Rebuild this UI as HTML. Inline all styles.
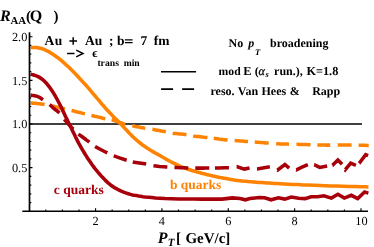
<!DOCTYPE html>
<html><head><meta charset="utf-8"><title>RAA</title>
<style>
html,body{margin:0;padding:0;background:#fff;}
body{width:374px;height:247px;overflow:hidden;}
svg{display:block;will-change:transform;}
text{font-family:"Liberation Serif",serif;fill:#000;text-rendering:geometricPrecision;}
.b{font-weight:bold;}
.i{font-style:italic;}
</style></head><body>
<svg width="374" height="247" viewBox="0 0 374 247">
<rect width="374" height="247" fill="#fff"/>
<!-- curves -->
<g fill="none" stroke-linejoin="round">
<path d="M29.5,123.9 H362.0" stroke="#000" stroke-width="1.5"/>
<path d="M30.5,102.9 L31.6,103.0 L33.2,103.2 L35.0,103.3 L37.1,103.6 L39.2,103.8 L41.2,104.0 L43.1,104.2 L44.6,104.4 L45.8,104.6 L46.8,104.8 L47.7,104.9 L48.5,105.1 L49.2,105.3 L50.1,105.5 L51.0,105.7 L52.2,106.0 L53.6,106.3 L55.2,106.7 L56.9,107.0 L58.7,107.5 L60.5,107.9 L62.2,108.2 L63.8,108.6 L65.1,108.9 L66.2,109.2 L67.0,109.4 L67.7,109.5 L68.3,109.7 L68.9,109.8 L69.6,110.0 L70.5,110.2 L71.6,110.5 L73.0,110.8 L74.6,111.2 L76.4,111.7 L78.3,112.2 L80.2,112.6 L82.0,113.1 L83.6,113.5 L85.0,113.8 L86.1,114.1 L86.9,114.3 L87.6,114.4 L88.2,114.6 L88.8,114.8 L89.5,114.9 L90.4,115.1 L91.5,115.4 L92.9,115.7 L94.6,116.2 L96.5,116.6 L98.4,117.1 L100.3,117.5 L102.2,118.0 L103.9,118.4 L105.3,118.7 L106.4,118.9 L107.2,119.0 L107.9,119.1 L108.5,119.2 L109.1,119.2 L109.8,119.3 L110.6,119.5 L111.7,119.8 L113.1,120.2 L114.8,120.8 L116.6,121.4 L118.5,122.0 L120.4,122.7 L122.3,123.3 L124.0,123.9 L125.4,124.3 L126.6,124.6 L127.5,124.9 L128.3,125.0 L129.0,125.2 L129.6,125.3 L130.4,125.4 L131.3,125.6 L132.4,125.8 L133.8,126.1 L135.3,126.4 L137.1,126.7 L138.8,127.0 L140.6,127.4 L142.3,127.7 L143.9,128.0 L145.3,128.2 L146.4,128.4 L147.4,128.5 L148.1,128.6 L148.9,128.7 L149.6,128.8 L150.4,129.0 L151.3,129.1 L152.5,129.3 L153.9,129.6 L155.6,129.9 L157.4,130.2 L159.2,130.5 L161.1,130.9 L162.9,131.2 L164.5,131.5 L165.9,131.8 L167.0,132.0 L167.9,132.2 L168.7,132.4 L169.3,132.6 L170.0,132.7 L170.7,132.9 L171.7,133.0 L172.8,133.2 L174.2,133.4 L175.9,133.6 L177.8,133.8 L179.7,134.0 L181.6,134.1 L183.5,134.3 L185.2,134.5 L186.6,134.7 L187.7,134.9 L188.6,135.0 L189.3,135.2 L189.9,135.3 L190.5,135.5 L191.3,135.7 L192.1,135.8 L193.3,136.0 L194.8,136.2 L196.5,136.4 L198.5,136.6 L200.5,136.8 L202.5,137.1 L204.4,137.3 L206.1,137.4 L207.6,137.6 L208.7,137.7 L209.6,137.8 L210.2,137.9 L210.8,137.9 L211.3,138.0 L212.0,138.1 L212.8,138.2 L213.9,138.3 L215.3,138.5 L217.0,138.7 L218.8,139.0 L220.7,139.2 L222.7,139.5 L224.5,139.7 L226.2,139.9 L227.7,140.1 L228.9,140.2 L229.9,140.3 L230.7,140.4 L231.4,140.4 L232.2,140.4 L233.0,140.5 L234.0,140.5 L235.2,140.6 L236.7,140.7 L238.4,140.8 L240.2,141.0 L242.2,141.1 L244.1,141.2 L245.9,141.4 L247.6,141.5 L249.0,141.6 L250.1,141.7 L250.9,141.7 L251.6,141.8 L252.2,141.8 L252.7,141.9 L253.4,142.0 L254.2,142.0 L255.3,142.1 L256.7,142.2 L258.3,142.3 L260.1,142.4 L261.9,142.6 L263.8,142.7 L265.7,142.9 L267.5,143.0 L269.1,143.1 L270.5,143.2 L271.8,143.3 L273.0,143.4 L274.2,143.5 L275.4,143.6 L276.7,143.7 L278.2,143.8 L280.0,143.9 L282.0,144.0 L284.2,144.0 L286.6,144.1 L289.1,144.2 L291.7,144.2 L294.4,144.3 L297.2,144.3 L300.0,144.4 L302.9,144.5 L306.0,144.6 L309.2,144.7 L312.5,144.8 L315.8,144.9 L319.0,145.0 L322.1,145.0 L325.0,145.1 L327.7,145.1 L330.3,145.1 L332.7,145.1 L335.1,145.1 L337.4,145.0 L339.8,145.0 L342.3,145.0 L345.0,145.0 L348.0,145.0 L351.3,145.1 L354.7,145.1 L358.2,145.2 L361.5,145.3 L364.5,145.3 L367.0,145.4 L368.9,145.4" stroke="#ff8303" stroke-width="3.55" stroke-dasharray="14.18 7.77 13.22 6.69 13.80 6.69 14.19 6.50 14.42 7.16 13.12 7.28 13.63 7.04 13.88 6.83 14.39 6.34 13.92 7.12 13.43 6.72 14.04 7.43 12.91 7.40 14.11 6.80 12.90 7.50 13.90 7.00 10.10 1000.00"/>
<path d="M30.5,47.5 L30.9,47.5 L31.4,47.5 L32.1,47.5 L32.8,47.4 L33.5,47.4 L34.3,47.4 L35.0,47.5 L35.7,47.5 L36.3,47.6 L36.9,47.6 L37.6,47.7 L38.2,47.8 L38.8,47.9 L39.4,48.0 L40.0,48.2 L40.6,48.3 L41.2,48.5 L41.8,48.6 L42.4,48.8 L43.0,49.0 L43.6,49.3 L44.2,49.5 L44.8,49.7 L45.4,50.0 L46.0,50.3 L46.6,50.6 L47.2,50.9 L47.8,51.2 L48.5,51.5 L49.1,51.9 L49.7,52.2 L50.3,52.6 L50.9,53.0 L51.5,53.4 L52.1,53.8 L52.8,54.2 L53.4,54.6 L54.0,55.0 L54.6,55.5 L55.2,55.9 L55.8,56.3 L56.4,56.7 L57.0,57.2 L57.6,57.6 L58.2,58.0 L58.8,58.5 L59.4,58.9 L60.0,59.4 L60.6,59.9 L61.2,60.4 L61.8,60.9 L62.4,61.5 L63.1,62.0 L63.7,62.6 L64.3,63.1 L64.9,63.7 L65.5,64.3 L66.1,64.8 L66.7,65.4 L67.4,65.9 L68.0,66.5 L68.6,67.0 L69.2,67.6 L69.8,68.2 L70.4,68.8 L71.0,69.4 L71.6,70.0 L72.2,70.6 L72.8,71.2 L73.4,71.8 L74.0,72.4 L74.6,73.0 L75.2,73.6 L75.8,74.3 L76.4,74.9 L76.9,75.5 L77.5,76.2 L78.2,76.8 L78.8,77.6 L79.5,78.3 L80.2,79.1 L81.0,79.9 L81.7,80.7 L82.5,81.5 L83.3,82.4 L84.2,83.3 L85.1,84.3 L86.0,85.3 L87.0,86.4 L88.0,87.6 L89.1,88.8 L90.1,90.1 L91.3,91.4 L92.4,92.8 L93.5,94.1 L94.7,95.5 L95.9,96.9 L97.1,98.3 L98.3,99.7 L99.5,101.2 L100.7,102.6 L101.9,104.1 L103.2,105.5 L104.4,106.9 L105.6,108.3 L106.9,109.7 L108.2,111.1 L109.5,112.5 L110.8,113.8 L112.0,115.1 L113.1,116.3 L114.2,117.4 L115.2,118.4 L116.1,119.3 L116.9,120.2 L117.7,120.9 L118.5,121.7 L119.2,122.4 L120.0,123.1 L120.7,123.9 L121.4,124.6 L122.1,125.4 L122.7,126.1 L123.3,126.7 L124.0,127.4 L124.7,128.2 L125.4,129.0 L126.2,129.8 L127.1,130.7 L128.0,131.7 L129.0,132.8 L130.1,133.9 L131.1,135.0 L132.2,136.1 L133.3,137.1 L134.3,138.1 L135.3,139.0 L136.3,139.9 L137.3,140.8 L138.4,141.6 L139.4,142.5 L140.4,143.3 L141.4,144.0 L142.4,144.8 L143.4,145.6 L144.5,146.3 L145.6,147.1 L146.7,147.8 L147.8,148.5 L148.8,149.1 L149.7,149.7 L150.5,150.2 L151.2,150.6 L151.8,151.0 L152.3,151.3 L152.7,151.5 L153.1,151.8 L153.6,152.0 L154.0,152.3 L154.6,152.6 L155.2,152.9 L155.8,153.3 L156.4,153.6 L157.0,153.9 L157.7,154.3 L158.4,154.7 L159.3,155.2 L160.3,155.8 L161.5,156.5 L162.8,157.2 L164.2,158.0 L165.7,158.9 L167.2,159.8 L168.8,160.6 L170.4,161.5 L172.0,162.3 L173.6,163.1 L175.1,163.8 L176.7,164.6 L178.3,165.4 L179.9,166.1 L181.6,166.8 L183.5,167.6 L185.4,168.3 L187.5,169.0 L189.7,169.7 L192.0,170.5 L194.4,171.2 L196.8,171.9 L199.3,172.5 L201.7,173.2 L204.0,173.8 L206.3,174.4 L208.5,174.9 L210.8,175.5 L213.0,176.0 L215.3,176.4 L217.5,176.9 L219.8,177.4 L222.0,177.8 L224.2,178.2 L226.4,178.6 L228.6,179.1 L230.8,179.4 L233.0,179.8 L235.2,180.2 L237.6,180.5 L240.0,180.8 L242.6,181.1 L245.2,181.3 L248.0,181.6 L250.8,181.8 L253.6,182.0 L256.4,182.2 L259.2,182.4 L262.0,182.6 L264.6,182.8 L267.1,183.0 L269.4,183.1 L271.8,183.3 L274.4,183.5 L277.2,183.6 L280.3,183.8 L284.0,184.0 L288.2,184.2 L292.9,184.4 L297.9,184.6 L303.2,184.9 L308.6,185.1 L314.1,185.3 L319.6,185.5 L325.0,185.7 L330.6,185.9 L336.7,186.1 L343.0,186.2 L349.3,186.4 L355.2,186.6 L360.5,186.7 L365.0,186.8 L368.4,186.9" stroke="#ff8303" stroke-width="3.55"/>
<path d="M30.5,95.1 L31.7,95.3 L33.5,95.5 L35.5,95.9 L37.3,96.4 L38.8,97.0 L40.2,97.8 L41.5,98.7 L43.0,99.7 L44.6,100.8 L46.4,102.1 L48.1,103.4 L49.6,104.6 L50.9,105.7 L52.1,106.8 L53.2,107.9 L54.4,108.9 L55.6,109.9 L56.9,110.8 L58.2,111.8 L59.4,113.0 L60.5,114.4 L61.6,115.8 L62.8,117.5 L64.3,119.4 L66.3,121.7 L68.7,124.4 L71.1,127.0 L73.2,129.2 L74.8,130.8 L76.1,132.0 L77.3,133.0 L78.5,134.0 L79.8,135.1 L81.1,136.0 L82.5,137.0 L83.8,138.0 L85.2,139.0 L86.6,140.1 L88.0,141.1 L89.4,142.2 L90.7,143.2 L91.8,144.2 L93.2,145.3 L95.1,146.5 L97.8,148.0 L101.1,149.8 L104.5,151.5 L107.3,152.9 L109.2,153.8 L110.5,154.5 L111.9,155.1 L113.8,155.8 L116.7,156.9 L120.2,158.1 L123.7,159.3 L126.6,160.2 L128.4,160.8 L129.7,161.2 L130.9,161.5 L132.8,161.9 L135.8,162.4 L139.4,163.0 L143.0,163.6 L146.0,164.1 L148.0,164.5 L149.3,164.9 L150.7,165.2 L152.7,165.6 L155.8,166.0 L159.5,166.4 L163.3,166.7 L166.5,167.0 L168.7,167.2 L170.2,167.3 L171.8,167.4 L174.0,167.5 L177.1,167.6 L180.7,167.7 L184.4,167.8 L187.9,167.9 L191.1,168.0 L194.3,168.0 L197.3,168.1 L200.0,168.1 L202.0,168.1 L203.4,168.1 L205.2,168.0 L208.0,168.0 L212.8,168.0 L219.0,167.9 L224.9,167.8 L229.0,167.8 L236.8,166.6 L244.3,169.1 L249.6,168.1 L257.1,168.9 L269.9,166.8 L277.4,170.2 L284.9,164.5 L289.2,168.1 L296.4,169.8 L302.0,167.2 L307.9,164.7 L314.3,164.7 L319.7,167.4 L327.2,165.9 L332.5,165.3 L337.9,160.0 L342.1,164.2 L345.3,169.6 L350.7,163.2 L356.0,165.3 L359.2,163.2 L365.7,154.6 L368.2,155.6" stroke-linejoin="miter" stroke="#a8000a" stroke-width="3.55" stroke-dasharray="13.54 8.22 12.92 8.06 13.24 7.16 13.64 7.15 13.78 7.12 13.64 6.33 13.59 7.47 13.97 7.11 13.81 7.00 14.00 5.70 14.00 7.89 13.30 7.54 12.97 8.23 15.03 7.09 12.89 6.40 13.69 5.33 13.51 6.28 14.07 3.83 13.47 1000.00"/>
<path d="M30.5,74.1 L31.4,74.4 L32.8,74.8 L34.3,75.2 L35.7,75.7 L36.9,76.2 L38.2,76.7 L39.4,77.4 L40.6,78.1 L41.8,79.0 L43.0,79.9 L44.2,81.0 L45.4,82.2 L46.6,83.5 L47.8,85.0 L49.1,86.5 L50.3,88.2 L51.5,90.0 L52.8,91.9 L54.0,93.9 L55.2,95.9 L56.4,98.0 L57.6,100.3 L58.8,102.5 L60.0,104.8 L61.1,107.0 L62.1,109.2 L63.2,111.5 L64.3,113.8 L65.5,116.4 L66.8,119.1 L68.1,121.7 L69.2,124.0 L70.1,125.8 L70.9,127.3 L71.6,128.7 L72.4,130.4 L73.3,132.4 L74.4,134.5 L75.4,136.7 L76.5,138.9 L77.6,141.1 L78.8,143.4 L80.1,145.6 L81.3,147.8 L82.5,149.9 L83.8,152.0 L85.0,154.0 L86.2,155.9 L87.3,157.7 L88.5,159.4 L89.6,161.0 L90.8,162.8 L92.1,164.7 L93.5,166.6 L95.0,168.6 L96.5,170.5 L98.1,172.4 L99.7,174.2 L101.4,176.1 L103.0,177.8 L104.6,179.5 L106.2,181.1 L107.8,182.6 L109.4,184.0 L111.0,185.3 L112.6,186.4 L114.3,187.4 L115.9,188.4 L117.5,189.3 L119.1,190.1 L120.7,190.9 L122.4,191.6 L124.3,192.4 L126.4,193.1 L128.4,193.8 L130.5,194.4 L132.5,194.9 L134.5,195.3 L136.5,195.6 L138.6,196.0 L140.7,196.3 L142.9,196.7 L145.3,197.0 L148.3,197.3 L151.7,197.6 L155.4,198.0 L159.8,198.3 L165.0,198.6 L171.4,198.8 L178.8,198.9 L186.5,199.0 L194.0,199.1 L201.7,199.1 L209.8,199.1 L217.0,199.1 L222.0,199.1 L232.4,197.9 L240.0,198.5 L245.4,199.8 L250.0,198.6 L259.7,197.5 L264.6,197.8 L271.1,199.8 L278.4,197.8 L284.8,199.1 L291.3,197.0 L298.6,198.2 L305.1,198.6 L311.1,196.7 L317.5,196.8 L323.9,195.7 L331.4,198.1 L337.9,194.2 L344.3,198.1 L351.3,195.3 L357.7,198.6 L364.6,192.0 L368.4,193.1" stroke-linejoin="miter" stroke="#a8000a" stroke-width="3.55"/>
</g>
<!-- axes -->
<g fill="none" stroke="#000">
<path d="M22.3,211.2 H368" stroke-width="1.4"/>
<path d="M29.5,32.3 V211.9" stroke-width="1.7"/>
<path d="M45.79,211.20 v-1.8 M62.38,211.20 v-1.8 M78.97,211.20 v-1.8 M95.56,211.20 v-3.0 M112.15,211.20 v-1.8 M128.74,211.20 v-1.8 M145.33,211.20 v-1.8 M161.92,211.20 v-3.0 M178.51,211.20 v-1.8 M195.10,211.20 v-1.8 M211.69,211.20 v-1.8 M228.28,211.20 v-3.0 M244.87,211.20 v-1.8 M261.46,211.20 v-1.8 M278.05,211.20 v-1.8 M294.64,211.20 v-3.0 M311.23,211.20 v-1.8 M327.82,211.20 v-1.8 M344.41,211.20 v-1.8 M361.00,211.20 v-3.0 M29.50,202.57 h1.8 M29.50,193.84 h1.8 M29.50,185.11 h1.8 M29.50,176.38 h1.8 M29.50,167.65 h3.0 M29.50,158.92 h1.8 M29.50,150.19 h1.8 M29.50,141.46 h1.8 M29.50,132.73 h1.8 M29.50,124.00 h3.0 M29.50,115.27 h1.8 M29.50,106.54 h1.8 M29.50,97.81 h1.8 M29.50,89.08 h1.8 M29.50,80.35 h3.0 M29.50,71.62 h1.8 M29.50,62.89 h1.8 M29.50,54.16 h1.8 M29.50,45.43 h1.8 M29.50,36.70 h3.0" stroke-width="1.15"/>
</g>
<g font-size="12.3"><text x="95.6" y="224.6" text-anchor="middle">2</text><text x="161.9" y="224.6" text-anchor="middle">4</text><text x="228.3" y="224.6" text-anchor="middle">6</text><text x="294.6" y="224.6" text-anchor="middle">8</text><text x="361.5" y="224.6" text-anchor="middle">10</text><text x="27.3" y="171.8" text-anchor="end">0.5</text><text x="27.3" y="128.1" text-anchor="end">1.0</text><text x="27.3" y="84.5" text-anchor="end">1.5</text><text x="27.3" y="40.8" text-anchor="end">2.0</text></g>
<!-- legend lines -->
<g fill="none" stroke="#000" stroke-width="1.7">
<path d="M161,71.75 H196.1"/>
<path d="M161.1,89.2 H194.1" stroke-dasharray="12 9"/>
</g>
<!-- title -->
<g class="b">
<text x="-0.1" y="21.0" font-size="16"><tspan class="i">R</tspan></text>
<text x="10.4" y="23.6" font-size="10.8">AA</text>
<text x="26" y="21.2" font-size="15">(</text><text x="29.8" y="21.1" font-size="16">Q</text>
<text x="53.6" y="21.2" font-size="15">)</text>
<g font-size="13.5">
<text x="44.5" y="44.7" letter-spacing="0.5">Au</text><path d="M69.4,41 H77 M73.2,37.2 V44.8" stroke="#000" stroke-width="1.5" fill="none"/><text x="84.9" y="44.7">Au</text><text x="108.9" y="44.7">;</text><text x="116.9" y="44.7">b</text><path d="M124.9,39.75 H132.6 M124.9,42.55 H132.6" stroke="#000" stroke-width="1.25" fill="none"/><text x="140.4" y="44.7">7</text><text x="153.8" y="44.7">fm</text>
<path d="M67.1,53.5 H74.5 M76.2,50.2 L83,53.5 L76.2,56.8" stroke="#000" stroke-width="1.45" fill="none"/><text x="92.3" y="57.0" font-size="12.4">ϵ</text>
</g>
<text x="97.4" y="65.5" font-size="9.7">trans</text><text x="123.7" y="65.5" font-size="9.6">min</text>
<g font-size="12">
<text x="228.5" y="47.1">No</text><text x="248.3" y="47.1" class="i">p</text><text x="254.9" y="54.8" class="i" font-size="8.5">T</text><text x="270" y="47.1">broadening</text>
<text x="218.6" y="74.8" font-size="11.7">mod</text><text x="243.3" y="74.8" font-size="12.4">E</text><text x="254.7" y="74.8">(</text><text x="258.4" y="74.8" class="i" font-weight="normal" font-size="12" stroke="#000" stroke-width="0.3">α</text><text x="265.6" y="77.3" class="i" font-size="8.4">s</text><text x="274.1" y="74.8">run.),</text><text x="306.4" y="74.8" font-size="12.3">K=1.8</text>
<text x="210.5" y="94.6" word-spacing="0.45">reso. Van Hees &amp;</text><text x="312.2" y="94.6">Rapp</text>
</g>
<text x="53.8" y="193.5" font-size="13.5" fill="#a8000a" style="fill:#a8000a">c quarks</text>
<text x="169.9" y="189.4" font-size="13.5" style="fill:#ff8303">b quarks</text>
<text x="157.8" y="243.3" font-size="16" class="i">P</text>
<text x="167.8" y="246.4" font-size="11" class="i">T</text>
<text x="176" y="243.2" font-size="15">[</text>
<text x="185.4" y="243.2" font-size="15">GeV/c]</text>
</g>
</svg>
</body></html>
